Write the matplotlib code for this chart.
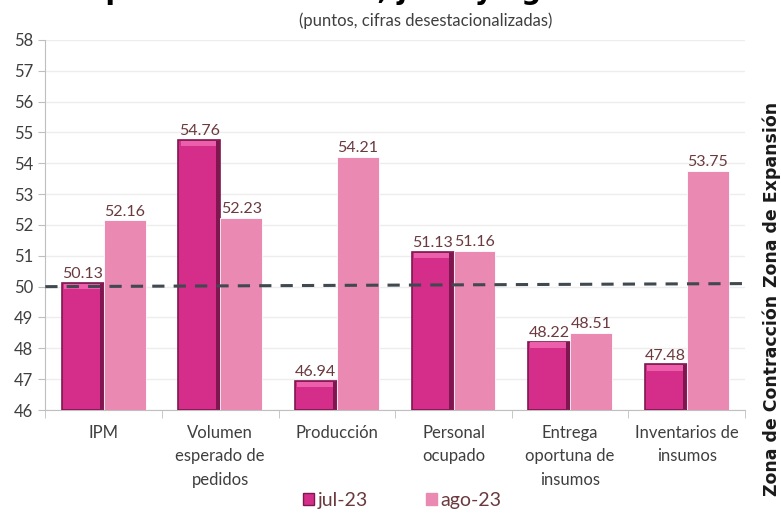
import numpy as np
import matplotlib.pyplot as plt
from matplotlib.patches import Patch

categories = ["IPM", "Volumen\nesperado de\npedidos", "Producción", "Personal\nocupado",
              "Entrega\noportuna de\ninsumos", "Inventarios de\ninsumos"]
jul_23 = [50.13, 54.76, 46.94, 51.13, 48.22, 47.48]
ago_23 = [52.16, 52.23, 54.21, 51.16, 48.51, 53.75]
series_names = ["jul-23", "ago-23"]

JUL = "#D42E8A"
JUL_DARK = "#7E1750"
JUL_LIGHT = "#EC5FAA"
AGO = "#EA89B2"
LABEL_COLOR = "#6B3A3F"
TEXT = "#3F3F3F"

plt.rcParams['font.family'] = ['Lato', 'DejaVu Sans']

fig = plt.figure(figsize=(7.81, 5.19), dpi=100)
ax = fig.add_axes([0.058, 0.21, 0.896, 0.713])

x = np.arange(len(categories))
w = 0.36

ax.bar(x - w / 2, [v - 46 for v in jul_23], w, bottom=46, color=JUL,
       edgecolor=JUL_DARK, linewidth=1.2, zorder=3)
# bevel look on the jul bars: light top strip, dark right strip
for xi, v in zip(x, jul_23):
    ax.fill_between([xi - w + 0.02, xi - 0.02], v - 0.2, v - 0.03,
                    color=JUL_LIGHT, zorder=4, linewidth=0)
    ax.fill_between([xi - 0.035, xi - 0.005], 46.02, v - 0.03,
                    color=JUL_DARK, zorder=4, linewidth=0)
ax.bar(x + w / 2, [v - 46 for v in ago_23], w, bottom=46, color=AGO,
       edgecolor="white", linewidth=0.6, zorder=3)

for xi, v in zip(x, jul_23):
    ax.text(xi - w / 2, v + 0.05, f"{v:.2f}", ha="center", va="bottom",
            fontsize=11.5, color=LABEL_COLOR, zorder=5)
for xi, v in zip(x, ago_23):
    ax.text(xi + w / 2, v + 0.05, f"{v:.2f}", ha="center", va="bottom",
            fontsize=11.5, color=LABEL_COLOR, zorder=5)

# threshold line at 50
ax.plot([-0.5, 5.5], [50.0, 50.1], linestyle=(0, (4, 3)), color="#404850",
        linewidth=2.2, zorder=6, clip_on=False)

ax.set_ylim(46, 58)
ax.set_xlim(-0.5, 5.5)
ax.set_yticks(np.arange(46, 59, 1))
ax.tick_params(axis="y", labelsize=12, colors=TEXT, length=5, color="#BFBFBF")
ax.set_xticks(x)
ax.set_xticklabels(categories, fontsize=12, color=TEXT, linespacing=1.55, va="top")
ax.tick_params(axis="x", length=0, pad=11)
ax.set_xticks(np.arange(-0.5, 6, 1), minor=True)
ax.tick_params(axis="x", which="minor", length=6, color="#BFBFBF")
ax.grid(axis="y", color="#EDEDED", linewidth=1, zorder=0)
for s in ["top", "right"]:
    ax.spines[s].set_visible(False)
ax.spines["left"].set_color("#BFBFBF")
ax.spines["bottom"].set_color("#BFBFBF")

# legend
handles = [Patch(facecolor=JUL, edgecolor=JUL_DARK), Patch(facecolor=AGO, edgecolor=AGO)]
fig.legend(handles, series_names, loc="lower center", bbox_to_anchor=(0.515, -0.014),
           ncol=2, frameon=False, fontsize=14, handlelength=0.55, handleheight=0.55,
           handletextpad=0.2, columnspacing=3.0, labelcolor=LABEL_COLOR)

# subtitle and clipped title
fig.text(0.545, 0.945, "(puntos, cifras desestacionalizadas)", ha="center", va="bottom",
         fontsize=12, color=TEXT)
fig.text(0.5, 0.99, "Componentes del IPM, julio y agosto de 2023", ha="center",
         va="bottom", fontsize=20, fontweight="bold", color="black",
         family=["DejaVu Sans"])

# zone labels
fig.text(0.988, 0.447, "Zona de Expansión", rotation=90, ha="center", va="bottom",
         fontsize=12.5, fontweight="bold", color="#1a1a1a", family=["DejaVu Sans"])
fig.text(0.988, 0.432, "Zona de Contracción", rotation=90, ha="center", va="top",
         fontsize=12.5, fontweight="bold", color="#1a1a1a", family=["DejaVu Sans"])

fig.savefig("out.png", dpi=100)
